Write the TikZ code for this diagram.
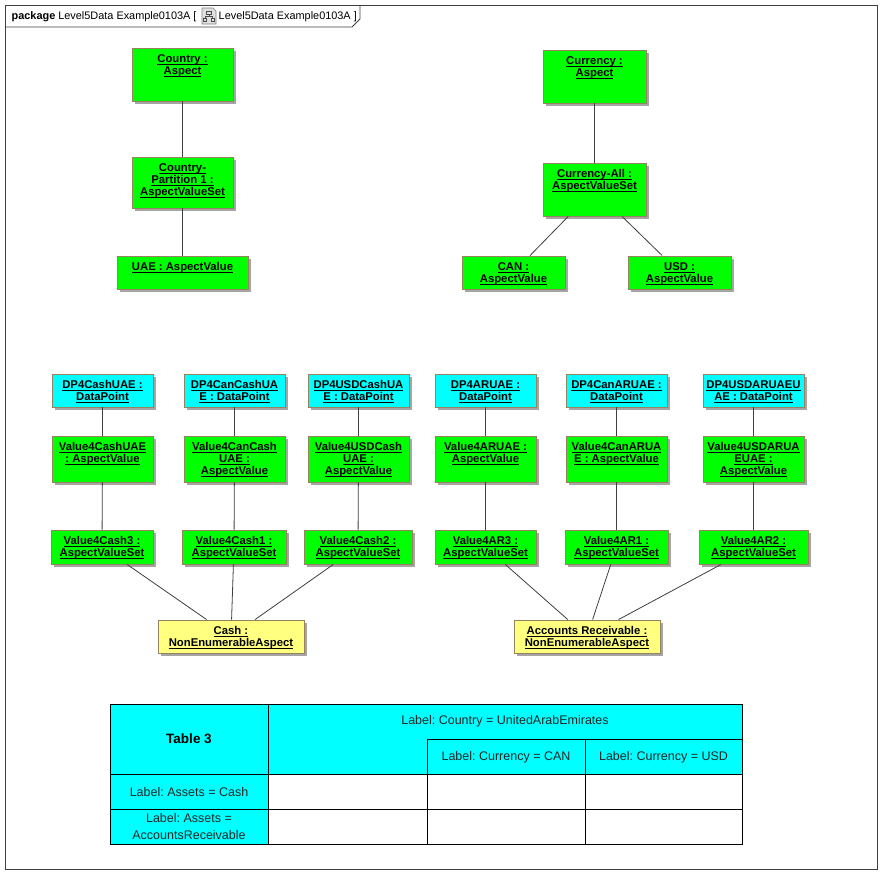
\documentclass[tikz,border=0pt]{standalone}
\usepackage{fontspec}
\setmainfont{Liberation Sans}
\usetikzlibrary{shadows}
\frenchspacing
\definecolor{objgreen}{RGB}{0,255,0}
\definecolor{objcyan}{RGB}{0,255,255}
\definecolor{objyellow}{RGB}{255,255,128}
\definecolor{objborder}{RGB}{150,130,95}
\definecolor{shadowgray}{RGB}{165,165,165}
\definecolor{linegray}{RGB}{64,64,64}
\definecolor{framegray}{RGB}{64,64,64}
\newcommand{\uln}[1]{\setbox0\hbox{#1}\rlap{\vrule width \wd0 height -1.5pt depth 2.5pt}\box0}
\newcommand{\obj}[7]{%
  \node[objbox, fill=#6, minimum width={#4-#2}, minimum height={#5-#3}] (#1) at ({(#2+#4)/2},{(#3+#5)/2}) {};
  \node[objtext] (#1-t) at ([yshift=-5.8pt]#1.north) {\rule{0pt}{8.6pt}#7};
}
\tikzset{
  objbox/.style={draw=objborder, line width=0.9pt, inner sep=0pt,
    drop shadow={shadow xshift=3pt, shadow yshift=-3pt, fill=shadowgray, opacity=1}},
  objtext/.style={anchor=north, inner sep=0pt, align=center,
    font=\fontsize{11.3}{12}\selectfont\bfseries},
  conn/.style={draw=linegray, line width=0.8pt},
  tabtext/.style={inner sep=0pt, align=center, text=black!85,
    font=\fontsize{12.5}{17}\selectfont},
  tabbold/.style={inner sep=0pt, font=\fontsize{13.5}{16}\selectfont\bfseries},
  tablabel/.style={anchor=base west, inner sep=0pt, font=\fontsize{10.9}{13}\selectfont}
}
\begin{document}
\begin{tikzpicture}[x=1pt, y=-1pt]
\useasboundingbox (0,0) rectangle (892,884);
\fill[white] (0,0) rectangle (892,884);

% frame
\draw[framegray, line width=0.9pt] (5,5) rectangle (877,869);
\draw[framegray, line width=0.9pt] (5,27) -- (352,27) -- (360,19) -- (360,5);
\node[tablabel] (tab1) at (11.5,19) {\textbf{package} Level5Data Example0103A [};
\draw[gray, line width=0.6pt, fill=black!12] (202,8) -- (213,8) -- (216,11) -- (216,24) -- (202,24) -- cycle;
\draw[black!70, line width=0.5pt] (206.5,11) rectangle (211,14);
\draw[black!70, line width=0.5pt] (208.75,14) -- (208.75,16) (205,16) -- (212.5,16) (205,16) -- (205,18) (212.5,16) -- (212.5,18);
\draw[black!70, line width=0.5pt] (203.5,18) rectangle (206.5,21);
\draw[black!70, line width=0.5pt] (211,18) rectangle (214,21);
\node[tablabel] (tab2) at (218.5,19) {Level5Data Example0103A ]};

% Country group
\obj{country}{132}{48}{233}{101}{objgreen}{\uln{Country :}\\\uln{Aspect}}
\obj{cpart}{132}{157}{233}{208}{objgreen}{\uln{Country-}\\\uln{Partition 1 :}\\\uln{AspectValueSet}}
\obj{uae}{117}{256}{248}{289}{objgreen}{\uln{UAE : AspectValue}}

% Currency group
\obj{currency}{543}{50}{646}{103}{objgreen}{\uln{Currency :}\\\uln{Aspect}}
\obj{curall}{543}{163}{646}{216}{objgreen}{\uln{Currency-All :}\\\uln{AspectValueSet}}
\obj{can}{462}{256}{565}{289}{objgreen}{\uln{CAN :}\\\uln{AspectValue}}
\obj{usd}{628}{256}{731}{289}{objgreen}{\uln{USD :}\\\uln{AspectValue}}

% DataPoints
\obj{dp1}{52}{374}{153}{407}{objcyan}{\uln{DP4CashUAE :}\\\uln{DataPoint}}
\obj{dp2}{184}{374}{285}{407}{objcyan}{\uln{DP4CanCashUA}\\\uln{E : DataPoint}}
\obj{dp3}{308}{374}{409}{407}{objcyan}{\uln{DP4USDCashUA}\\\uln{E : DataPoint}}
\obj{dp4}{435}{374}{536}{407}{objcyan}{\uln{DP4ARUAE :}\\\uln{DataPoint}}
\obj{dp5}{566}{374}{667}{407}{objcyan}{\uln{DP4CanARUAE :}\\\uln{DataPoint}}
\obj{dp6}{703}{374}{804}{407}{objcyan}{\uln{DP4USDARUAEU}\\\uln{AE : DataPoint}}

% Values
\obj{v1}{52}{436}{153}{482}{objgreen}{\uln{Value4CashUAE}\\\uln{: AspectValue}}
\obj{v2}{184}{436}{285}{482}{objgreen}{\uln{Value4CanCash}\\\uln{UAE :}\\\uln{AspectValue}}
\obj{v3}{308}{436}{409}{482}{objgreen}{\uln{Value4USDCash}\\\uln{UAE :}\\\uln{AspectValue}}
\obj{v4}{435}{436}{536}{482}{objgreen}{\uln{Value4ARUAE :}\\\uln{AspectValue}}
\obj{v5}{566}{436}{667}{482}{objgreen}{\uln{Value4CanARUA}\\\uln{E : AspectValue}}
\obj{v6}{703}{436}{804}{482}{objgreen}{\uln{Value4USDARUA}\\\uln{EUAE :}\\\uln{AspectValue}}

% Value sets
\obj{s1}{51}{530}{153}{564}{objgreen}{\uln{Value4Cash3 :}\\\uln{AspectValueSet}}
\obj{s2}{182}{530}{286}{564}{objgreen}{\uln{Value4Cash1 :}\\\uln{AspectValueSet}}
\obj{s3}{304}{530}{412}{564}{objgreen}{\uln{Value4Cash2 :}\\\uln{AspectValueSet}}
\obj{s4}{435}{530}{536}{564}{objgreen}{\uln{Value4AR3 :}\\\uln{AspectValueSet}}
\obj{s5}{565}{530}{668}{564}{objgreen}{\uln{Value4AR1 :}\\\uln{AspectValueSet}}
\obj{s6}{699}{530}{808}{564}{objgreen}{\uln{Value4AR2 :}\\\uln{AspectValueSet}}

% Non enumerable aspects
\obj{cash}{158}{620}{304}{653}{objyellow}{\uln{Cash :}\\\uln{NonEnumerableAspect}}
\obj{ar}{514}{620}{660}{653}{objyellow}{\uln{Accounts Receivable :}\\\uln{NonEnumerableAspect}}

% connectors
\draw[conn] (country) -- (cpart);
\draw[conn] (cpart) -- (uae);
\draw[conn] (currency) -- (curall);
\draw[conn] (curall) -- (can);
\draw[conn] (curall) -- (usd);
\foreach \i in {1,...,6} {
  \draw[conn] (dp\i) -- (v\i);
  \draw[conn] (v\i) -- (s\i);
}
\draw[conn] (s1) -- (cash);
\draw[conn] (s2) -- (cash);
\draw[conn] (s3) -- (cash);
\draw[conn] (s4) -- (ar);
\draw[conn] (s5) -- (ar);
\draw[conn] (s6) -- (ar);

% table
\fill[objcyan] (110,704) rectangle (742,774);
\fill[objcyan] (110,774) rectangle (268,844);
\draw[black, line width=0.9pt] (110,704) rectangle (742,844);
\draw[black, line width=0.9pt] (268,704) -- (268,844);
\draw[black, line width=0.9pt] (427,739) -- (427,844);
\draw[black, line width=0.9pt] (585,739) -- (585,844);
\draw[black, line width=0.9pt] (427,739) -- (742,739);
\draw[black, line width=0.9pt] (110,774) -- (742,774);
\draw[black, line width=0.9pt] (110,809) -- (742,809);
\node[tabbold] (t3) at (189,739) {Table 3};
\node[tabtext] (tcountry) at (505,721.5) {Label: Country = UnitedArabEmirates};
\node[tabtext] (tcan) at (506,757) {Label: Currency = CAN};
\node[tabtext] (tusd) at (663.5,757) {Label: Currency = USD};
\node[tabtext] (tcash) at (189,792) {Label: Assets = Cash};
\node[tabtext] (tar) at (189,827) {Label: Assets =\\AccountsReceivable};
\end{tikzpicture}
\end{document}
